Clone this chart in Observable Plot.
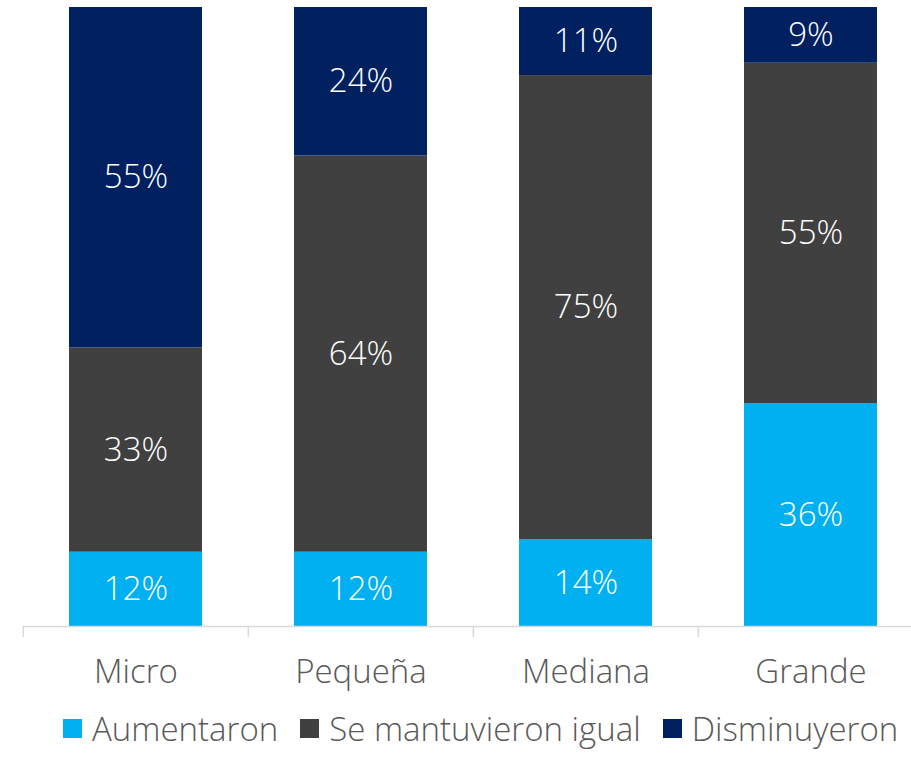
<!DOCTYPE html>
<html>
<head>
<meta charset="utf-8">
<script src="https://cdn.jsdelivr.net/npm/d3@7"></script>
<script src="https://cdn.jsdelivr.net/npm/@observablehq/plot@0.6"></script>
<style>
  html, body { margin: 0; padding: 0; background: #fff; overflow: hidden; width: 911px; height: 757px; }
  #chart svg { display: block; overflow: hidden; }
  .legend { display: flex; align-items: center; height: 54px; padding-top: 1px; padding-left: 63px; font-family: "Open Sans", sans-serif; font-weight: 300; font-size: 33px; line-height: 1; color: #595959; white-space: nowrap; }
  .legend .item { display: flex; align-items: center; margin-right: 22px; }
  .legend .sw { width: 19px; height: 19px; margin-right: 10px; }
</style>
</head>
<body>
<div id="chart"></div>
<div class="legend" id="legend"></div>
<script>
const categories = ["Micro", "Pequeña", "Mediana", "Grande"];
const series = ["Aumentaron", "Se mantuvieron igual", "Disminuyeron"];
const aumentaron = [12, 12, 14, 36];
const mantuvieron = [33, 64, 75, 55];
const disminuyeron = [55, 24, 11, 9];
const colors = ["#00B0F0", "#404040", "#002060"];

const valuesBySeries = [aumentaron, mantuvieron, disminuyeron];
const data = [];
series.forEach((s, i) => categories.forEach((c, j) => data.push({category: c, series: s, value: valuesBySeries[i][j]})));

const font = "'Open Sans', sans-serif";
const bandStep = (924 - 22.7) / 4;

const plot = Plot.plot({
  width: 911,
  height: 700,
  marginTop: 7,
  marginBottom: 74,
  marginLeft: 0,
  marginRight: 0,
  style: {fontFamily: font, fontWeight: 300, background: "white"},
  x: {domain: categories, range: [22.7, 924], paddingInner: 0.41, paddingOuter: 0.205, label: null},
  y: {domain: [0, 100], axis: null},
  color: {domain: series, range: colors},
  marks: [
    Plot.barY(data, {x: "category", y: "value", fill: "series"}),
    Plot.text(data, Plot.stackY({x: "category", y: "value", z: "series", text: d => d.value + "%", fill: "white", fontSize: 33, fontWeight: 300})),
    Plot.ruleY([0], {stroke: "#d9d9d9", strokeWidth: 1.5, insetLeft: 22.7}),
    Plot.axisX({tickSize: 11, dx: -bandStep / 2, tickFormat: () => "", stroke: "#d9d9d9", strokeWidth: 1.5}),
    Plot.axisX({tickSize: 0, tickPadding: 33, fontSize: 33, fill: "#595959", fontWeight: 300})
  ]
});
document.getElementById("chart").appendChild(plot);

const legend = document.getElementById("legend");
series.forEach((s, i) => {
  const item = document.createElement("div");
  item.className = "item";
  const sw = document.createElement("span");
  sw.className = "sw";
  sw.style.background = colors[i];
  const t = document.createElement("span");
  t.textContent = s;
  item.appendChild(sw);
  item.appendChild(t);
  legend.appendChild(item);
});
</script>
</body>
</html>
